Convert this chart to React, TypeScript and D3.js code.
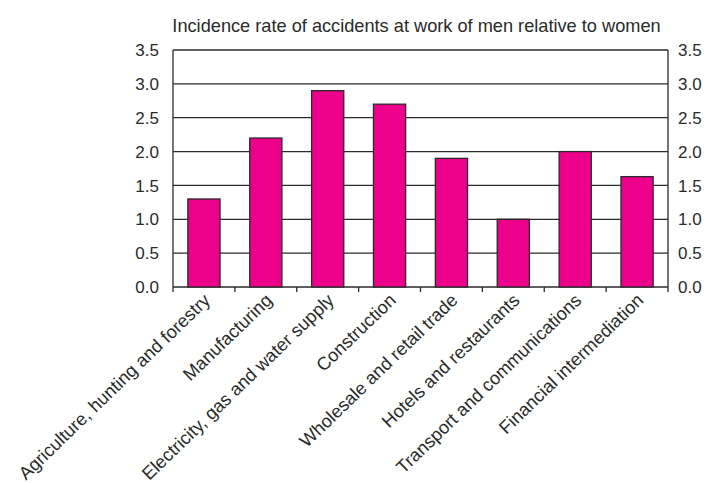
import React from "react";
import * as d3 from "d3";

const categories = [
  "Agriculture, hunting and forestry",
  "Manufacturing",
  "Electricity, gas and water supply",
  "Construction",
  "Wholesale and retail trade",
  "Hotels and restaurants",
  "Transport and communications",
  "Financial intermediation",
];
const values = [1.3, 2.2, 2.9, 2.7, 1.9, 1.0, 2.0, 1.63];
const yTicks = [0, 0.5, 1.0, 1.5, 2.0, 2.5, 3.0, 3.5];
const title = "Incidence rate of accidents at work of men relative to women";

export default function App() {
  const W = 710, H = 483;
  const left = 173, right = 668, top = 50, bottom = 287;
  const x = d3.scaleBand<string>().domain(categories).range([left, right]).paddingInner(0.48).paddingOuter(0.24);
  const band = d3.scaleBand<string>().domain(categories).range([left, right]);
  const y = d3.scaleLinear().domain([0, 3.5]).range([bottom, top]);
  const font = "'Liberation Sans', Arial, sans-serif";
  const ink = "#2a2a2a";
  return (
    <svg width={W} height={H} style={{ position: "absolute", left: 0, top: 0 }} fontFamily={font}>
      <rect width={W} height={H} fill="#fff" />
      <text x={416.5} y={32} fontSize={18.2} textAnchor="middle" fill={ink}>{title}</text>
      {yTicks.map((t) => (
        <line key={"g" + t} x1={left} x2={right} y1={y(t)} y2={y(t)} stroke={ink} strokeWidth={1.3} />
      ))}
      <line x1={left} x2={left} y1={top} y2={bottom} stroke={ink} strokeWidth={1.3} />
      <line x1={right} x2={right} y1={top} y2={bottom} stroke={ink} strokeWidth={1.3} />
      {categories.map((c, i) => (
        <rect key={c} x={x(c)} y={y(values[i])} width={x.bandwidth()} height={y(0) - y(values[i])}
          fill="#EC008C" stroke={ink} strokeWidth={1.3} />
      ))}
      {categories.concat([""]).map((c, i) => {
        const xx = left + i * band.bandwidth();
        return <line key={"t" + i} x1={xx} x2={xx} y1={bottom} y2={bottom + 5} stroke={ink} strokeWidth={1.3} />;
      })}
      {yTicks.map((t) => (
        <text key={"l" + t} x={159} y={y(t)} dy="0.36em" fontSize={17} textAnchor="end" fill={ink}>{t.toFixed(1)}</text>
      ))}
      {yTicks.map((t) => (
        <text key={"r" + t} x={678} y={y(t)} dy="0.36em" fontSize={17} textAnchor="start" fill={ink}>{t.toFixed(1)}</text>
      ))}
      {categories.map((c) => {
        const cx = (band(c) as number) + band.bandwidth() / 2;
        return (
          <text key={"x" + c} transform={`translate(${cx + 3},${bottom + 10}) rotate(-44)`} fontSize={18.2}
            textAnchor="end" dy="0.35em" fill={ink}>{c}</text>
        );
      })}
    </svg>
  );
}
